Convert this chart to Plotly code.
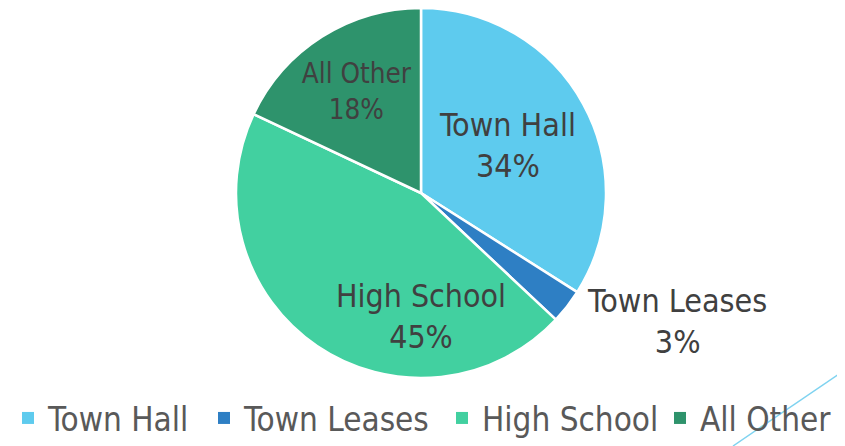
import plotly.graph_objects as go

labels = ["Town Hall", "Town Leases", "High School", "All Other"]
values = [34, 3, 45, 18]
colors = ["#5ECBEE", "#2E7FC4", "#42D0A0", "#2E936C"]
text_positions = ["inside", "outside", "inside", "inside"]
# left edge (px, figure coords) of each legend entry
legend_left_px = [0, 196, 434, 652]

# the page body adds an 8px margin, so the figure is sized to fill the rest
W, H = 837, 438
ML, MR = 0, 0
PW = W - ML - MR
cx, cy, r = 413, 185, 185
FONT = "DejaVu Sans Condensed"

fig = go.Figure()
fig.add_trace(go.Pie(
    labels=labels,
    values=values,
    sort=False,
    direction="clockwise",
    rotation=0,
    marker=dict(colors=colors, line=dict(color="white", width=2.5)),
    texttemplate="%{label}<br>%{value}%",
    textposition=text_positions,
    insidetextorientation="horizontal",
    textfont=dict(family=FONT, size=32, color="#404040"),
    hoverinfo="label+percent",
    domain=dict(x=[(cx - r - ML) / PW, (cx + r - ML) / PW],
                y=[max(0, 1 - (cy + r) / H), min(1, 1 - (cy - r) / H)]),
    automargin=False,
    showlegend=False,
))

legend_layout = {}
for i, (lab, col, lx) in enumerate(zip(labels, colors, legend_left_px)):
    key = "legend" if i == 0 else f"legend{i + 1}"
    fig.add_trace(go.Scatter(
        x=[None], y=[None], mode="markers", name=lab,
        marker=dict(symbol="square", size=12, color=col),
        legend=key, showlegend=True, hoverinfo="skip",
    ))
    legend_layout[key] = dict(
        orientation="h", x=(lx - ML) / PW, xanchor="left", y=0.0, yanchor="bottom",
        font=dict(family=FONT, size=33, color="#595959"),
        bgcolor="rgba(0,0,0,0)", itemwidth=30,
    )

fig.update_layout(
    width=W, height=H,
    margin=dict(l=ML, r=MR, t=0, b=0),
    paper_bgcolor="white",
    plot_bgcolor="white",
    xaxis=dict(visible=False),
    yaxis=dict(visible=False),
    shapes=[dict(type="line", xref="paper", yref="paper", layer="above",
                 x0=(725 - ML) / PW, y0=0, x1=1.0, y1=(438 - 362) / H,
                 line=dict(color="#7FD3F0", width=1.5))],
    **legend_layout,
)

fig.write_html("out.html")
